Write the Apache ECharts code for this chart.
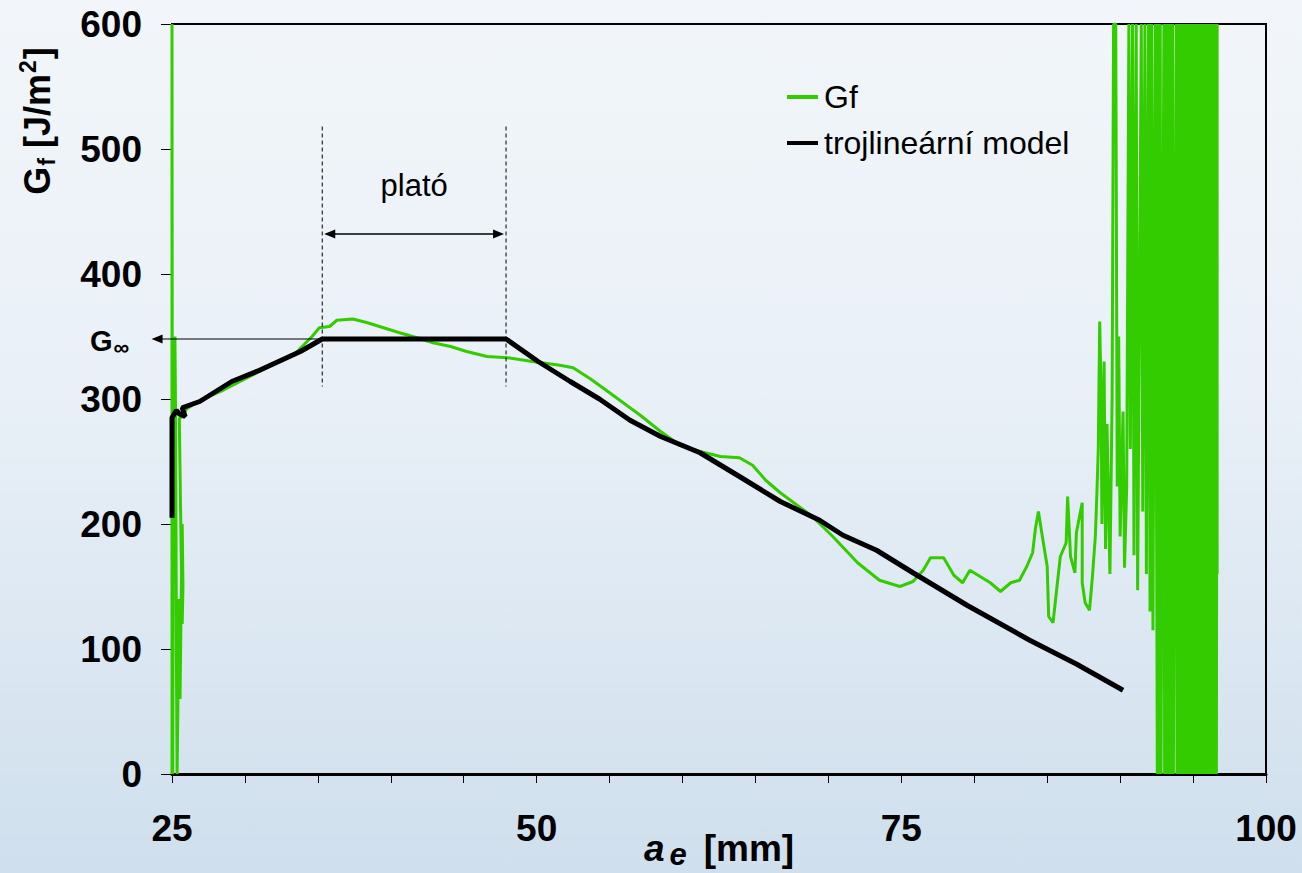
<!DOCTYPE html>
<html>
<head>
<meta charset="utf-8">
<title>Gf - trojlineární model</title>
<script src="https://cdn.jsdelivr.net/npm/echarts@6/dist/echarts.min.js"></script>
<style>
  html, body {
    margin: 0;
    padding: 0;
    width: 1302px;
    height: 873px;
    background: linear-gradient(to bottom, #f2f6fa 0%, #e9f0f7 45%, #cfdfed 100%);
  }
  #chart {
    width: 1302px;
    height: 873px;
  }
</style>
</head>
<body>
<div id="chart"></div>
<script>
// naměřená křivka Gf [a_e mm, Gf J/m2]
const gfStart = [
  [25.0, 0], [25.0, 600], [25.02, 250], [25.05, 0], [25.1, 290], [25.2, 350],
  [25.25, 280], [25.3, 100], [25.35, 0], [25.4, 50], [25.45, 140], [25.55, 60],
  [25.6, 110], [25.7, 200], [25.75, 150], [25.7, 120], [25.5, 284], [25.8, 288]
];
const gfMain = [
  [26.0, 292], [26.5, 296], [27.5, 302], [28.5, 307], [29.5, 313], [30.5, 319],
  [31.5, 325], [32.5, 331], [33.5, 337], [34.6, 350], [35.1, 357], [35.8, 358],
  [36.3, 363], [37.4, 364], [38.4, 361], [39.5, 357], [40.6, 353], [41.8, 349],
  [42.9, 345], [44.1, 342], [45.2, 338], [46.6, 334], [48.0, 333], [49.7, 330],
  [51.6, 327], [52.5, 325], [53.7, 316], [55.0, 305], [57.1, 287], [58.5, 274],
  [59.8, 263], [61.2, 258], [62.6, 254], [63.9, 253], [64.8, 247], [65.7, 235],
  [66.7, 225], [68.9, 206], [70.3, 190], [72.0, 169], [73.5, 155], [74.9, 150],
  [75.8, 154], [76.5, 163], [77.0, 173], [77.9, 173], [78.6, 159], [79.2, 153],
  [79.7, 163], [80.4, 158], [81.1, 153], [81.8, 146], [82.5, 153], [83.1, 155],
  [83.6, 166], [84.0, 177], [84.2, 197], [84.4, 210], [84.6, 195], [85.0, 166],
  [85.1, 126], [85.4, 121], [85.7, 153], [85.9, 174], [86.3, 185], [86.4, 222],
  [86.6, 174], [86.9, 161], [87.0, 193], [87.4, 217], [87.4, 153], [87.6, 137],
  [87.9, 131], [88.1, 158], [88.3, 190], [88.4, 222], [88.5, 259]
];
const gfTail = [
  [88.6, 362], [88.7, 300], [88.75, 200], [88.9, 330], [89.0, 180], [89.1, 280],
  [89.3, 160], [89.45, 300], [89.55, 600], [89.7, 600], [89.8, 230], [89.9, 350],
  [90.0, 190], [90.2, 290], [90.3, 165], [90.45, 230], [90.6, 600], [90.7, 260],
  [90.85, 600], [90.95, 175], [91.1, 600], [91.2, 147], [91.3, 330], [91.45, 600],
  [91.55, 210], [91.7, 600], [91.8, 160], [91.95, 600], [92.05, 130], [92.15, 600],
  [92.25, 115], [92.4, 600], [92.55, 0], [92.6, 600], [92.7, 0], [92.75, 600],
  [92.8, 0], [93.0, 600], [93.05, 0], [93.1, 600], [93.15, 0], [93.2, 600],
  [93.25, 0], [93.3, 600], [93.35, 0], [93.4, 600], [93.45, 0], [93.5, 600],
  [93.55, 0], [93.6, 600], [93.65, 0], [93.85, 600], [93.9, 0], [93.95, 600],
  [94.0, 0], [94.05, 600], [94.1, 0], [94.15, 600], [94.2, 0], [94.25, 600],
  [94.3, 0], [94.35, 600], [94.4, 0], [94.45, 600], [94.5, 0], [94.55, 600],
  [94.6, 0], [94.65, 600], [94.7, 0], [94.75, 600], [94.8, 0], [94.85, 600],
  [94.9, 0], [94.95, 600], [95.0, 0], [95.05, 600], [95.1, 0], [95.15, 600],
  [95.2, 0], [95.25, 600], [95.3, 0], [95.35, 600], [95.4, 0], [95.45, 600],
  [95.5, 0], [95.55, 600], [95.6, 0], [95.65, 600], [95.7, 0], [95.75, 600],
  [95.8, 0], [95.85, 600], [95.9, 0], [95.95, 600], [96.0, 0], [96.05, 600],
  [96.1, 0], [96.15, 600], [96.2, 0], [96.25, 600], [96.3, 0], [96.35, 600],
  [96.4, 0], [96.45, 600], [96.5, 0], [96.55, 600], [96.6, 0], [96.65, 600],
  [96.65, 160]
];

// trojlineární model
const trilinear = [
  [25.0, 205], [25.0, 285], [25.3, 291], [25.5, 288], [25.9, 286], [25.7, 293],
  [26.9, 298], [29.1, 314], [31.0, 323], [33.8, 338], [35.3, 348], [47.9, 348],
  [50.1, 330], [52.3, 314], [54.3, 300], [56.4, 283], [58.5, 270], [61.2, 257],
  [63.9, 238], [66.7, 218], [69.4, 203], [71.0, 191], [73.3, 179], [75.8, 161],
  [79.5, 135], [83.8, 107], [87.0, 88], [90.2, 67]
];

const xTicks = [25, 50, 75, 100];
const plateau = [35.3, 47.9]; // hranice plató
const gInf = 348;

const FONT = "'Liberation Sans', Arial, sans-serif";
const chart = echarts.init(document.getElementById("chart"), null, { renderer: "svg" });

chart.setOption({
  animation: false,
  backgroundColor: "transparent",
  grid: {
    left: 172,
    right: 36,
    top: 24,
    bottom: 99,
    outerBoundsMode: "none",
    containLabel: false,
    show: true,
    borderColor: "#000",
    borderWidth: 2,
    backgroundColor: "transparent"
  },
  legend: {
    orient: "vertical",
    left: 782,
    top: 76,
    icon: "rect",
    itemWidth: 31,
    itemHeight: 4,
    itemGap: 14,
    textStyle: { fontFamily: FONT, fontSize: 32, color: "#000", padding: [0, 0, 0, 1] },
    data: ["Gf", "trojlineární model"]
  },
  xAxis: {
    type: "value",
    min: 25,
    max: 100,
    interval: 5,
    name: "{a|a}{e|e}{u|[mm]}",
    nameLocation: "middle",
    nameGap: 52,
    nameMoveOverlap: false,
    nameTextStyle: {
      verticalAlign: "top",
      rich: {
        a: { fontFamily: FONT, fontSize: 37, fontWeight: "bold", fontStyle: "italic", color: "#000", lineHeight: 44, verticalAlign: "middle" },
        e: { fontFamily: FONT, fontSize: 31, fontWeight: "bold", fontStyle: "italic", color: "#000", lineHeight: 14, verticalAlign: "bottom", padding: [0, 0, 0, 5] },
        u: { fontFamily: FONT, fontSize: 37, fontWeight: "bold", color: "#000", lineHeight: 44, verticalAlign: "middle", padding: [0, 0, 0, 17] }
      }
    },
    axisLine: { lineStyle: { color: "#000", width: 3 } },
    axisTick: { show: true, inside: false, length: 9, lineStyle: { color: "#000", width: 1 } },
    axisLabel: {
      margin: 36,
      fontFamily: FONT,
      fontSize: 37,
      fontWeight: "bold",
      color: "#000",
      formatter: (v) => (xTicks.includes(v) ? String(v) : "")
    },
    splitLine: { show: false }
  },
  yAxis: {
    type: "value",
    min: 0,
    max: 600,
    interval: 100,
    axisLine: { show: true, lineStyle: { color: "#000", width: 2 } },
    axisTick: { show: true, inside: false, length: 11, lineStyle: { color: "#000", width: 1 } },
    axisLabel: {
      margin: 30,
      fontFamily: FONT,
      fontSize: 37,
      fontWeight: "bold",
      color: "#000"
    },
    splitLine: { show: false }
  },
  series: [
    {
      name: "Gf",
      type: "line",
      showSymbol: false,
      symbol: "none",
      clip: true,
      lineStyle: { color: "#33cc00", width: 3 },
      itemStyle: { color: "#33cc00" },
      data: gfStart.concat(gfMain, gfTail)
    },
    {
      name: "trojlineární model",
      type: "line",
      showSymbol: false,
      symbol: "none",
      clip: true,
      lineStyle: { color: "#000", width: 5 },
      itemStyle: { color: "#000" },
      data: trilinear
    }
  ]
});

// popisky a šipky - pozice přes měřítko grafu
const px = (x, y) => chart.convertToPixel({ xAxisIndex: 0, yAxisIndex: 0 }, [x, y]);

const dashTop1 = px(plateau[0], 518), dashBot1 = px(plateau[0], 310);
const dashTop2 = px(plateau[1], 518), dashBot2 = px(plateau[1], 310);
const arrL = px(plateau[0], 432), arrR = px(plateau[1], 432);
const labelPos = px((plateau[0] + plateau[1]) / 2, 471);
const gStart = px(plateau[0], gInf), gTip = px(23.6, gInf);

const head = (tip, dir) => ({
  type: "polygon",
  shape: { points: [tip, [tip[0] - dir * 11, tip[1] - 4.5], [tip[0] - dir * 11, tip[1] + 4.5]] },
  style: { fill: "#000" },
  z: 100
});

chart.setOption({
  graphic: [
    { type: "line", shape: { x1: dashTop1[0], y1: dashTop1[1], x2: dashBot1[0], y2: dashBot1[1] }, style: { stroke: "#000", lineWidth: 1, lineDash: [4, 3] }, z: 100 },
    { type: "line", shape: { x1: dashTop2[0], y1: dashTop2[1], x2: dashBot2[0], y2: dashBot2[1] }, style: { stroke: "#000", lineWidth: 1, lineDash: [4, 3] }, z: 100 },
    { type: "line", shape: { x1: arrL[0] + 4, y1: arrL[1], x2: arrR[0] - 4, y2: arrR[1] }, style: { stroke: "#000", lineWidth: 1.5 }, z: 100 },
    head([arrL[0] + 2, arrL[1]], -1),
    head([arrR[0] - 2, arrR[1]], 1),
    {
      type: "text",
      x: labelPos[0],
      y: labelPos[1],
      style: { text: "plató", fontFamily: FONT, fontSize: 31, fill: "#000", align: "center", verticalAlign: "middle" },
      z: 100
    },
    { type: "line", shape: { x1: gStart[0], y1: gStart[1], x2: gTip[0] + 4, y2: gTip[1] }, style: { stroke: "#000", lineWidth: 1.2 }, z: 100 },
    head([gTip[0], gTip[1]], -1),
    {
      type: "text",
      x: 90,
      y: gTip[1] + 2,
      style: {
        text: "{g|G}{s|∞}",
        verticalAlign: "middle",
        rich: {
          g: { fontFamily: FONT, fontSize: 29, fontWeight: "bold", fill: "#000", lineHeight: 34, verticalAlign: "middle" },
          s: { fontFamily: FONT, fontSize: 22, fontWeight: "bold", fill: "#000", lineHeight: 34, verticalAlign: "bottom", padding: [8, 0, 0, 1] }
        }
      },
      z: 100
    },
    {
      // popis osy y
      type: "text",
      x: 37,
      y: 121,
      rotation: Math.PI / 2,
      style: {
        text: "{g|G}{f|f}{t| [J/m}{s|2}{t|]}",
        align: "center",
        verticalAlign: "middle",
        rich: {
          g: { fontFamily: FONT, fontSize: 36, fontWeight: "bold", fill: "#000", lineHeight: 42, verticalAlign: "middle" },
          f: { fontFamily: FONT, fontSize: 23, fontWeight: "bold", fill: "#000", lineHeight: 42, verticalAlign: "bottom", padding: [8, 0, 0, 1] },
          t: { fontFamily: FONT, fontSize: 36, fontWeight: "bold", fill: "#000", lineHeight: 42, verticalAlign: "middle" },
          s: { fontFamily: FONT, fontSize: 23, fontWeight: "bold", fill: "#000", lineHeight: 42, verticalAlign: "top", padding: [0, 1, 8, 1] }
        }
      },
      z: 100
    }
  ]
});
</script>
</body>
</html>
